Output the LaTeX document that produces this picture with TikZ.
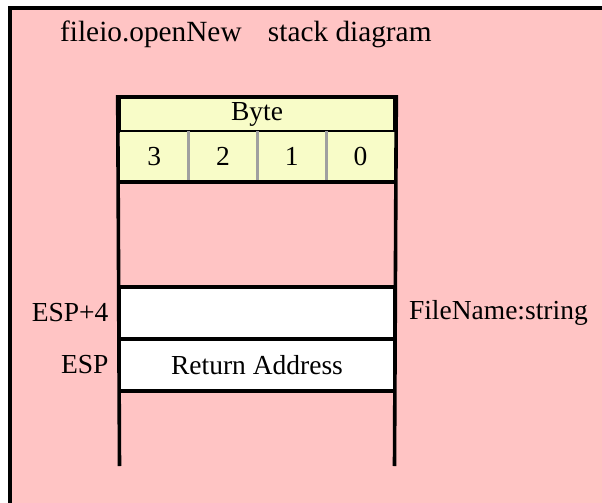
\documentclass[tikz,border=0pt]{standalone}
\usepackage{fontspec}
\setmainfont{Liberation Serif}
\definecolor{bgpink}{RGB}{255,196,196}
\definecolor{cellyellow}{RGB}{248,252,200}
\definecolor{divgrey}{RGB}{160,160,160}
\tikzset{
  frame/.style={line width=3.6pt},
  divider/.style={line width=2.6pt, draw=divgrey},
  rowbox/.style={draw, line width=3.6pt, inner sep=0pt, minimum width=275pt},
  digitbox/.style={inner sep=0pt, minimum width=68.75pt, minimum height=50pt, fill=cellyellow},
  bodytext/.style={font=\fontsize{27.5}{32}\selectfont},
}
\begin{document}
\begin{tikzpicture}[x=1pt, y=-1pt]
  \useasboundingbox (0,0) rectangle (602,503);
  % page and panel
  \fill[white] (0,0) rectangle (602,503);
  \fill[bgpink] (10,8) rectangle (602,503);
  \draw[line width=4pt] (10,503) -- (10,8) -- (602,8);

  % title
  \node[anchor=base west, inner sep=0pt, font=\fontsize{29.3}{34}\selectfont] (title) at (60,42)
    {fileio.openNew\hspace{0.9em}stack diagram};

  % byte header
  \node[rowbox, fill=cellyellow, minimum height=34.5pt, bodytext] (byte) at (257,114.25) {Byte};

  % byte numbers
  \node[digitbox, bodytext] (d3) at (154.125,156.5) {3};
  \node[digitbox, bodytext] (d2) at (222.875,156.5) {2};
  \node[digitbox, bodytext] (d1) at (291.625,156.5) {1};
  \node[digitbox, bodytext] (d0) at (360.375,156.5) {0};
  \draw[divider] (d3.north east) -- (d3.south east);
  \draw[divider] (d2.north east) -- (d2.south east);
  \draw[divider] (d1.north east) -- (d1.south east);
  \draw[frame] (d3.south west) -- (d0.south east);

  % stack slots
  \node[rowbox, fill=white, minimum height=52pt, bodytext] (esp4) at (257,313) {};
  \node[rowbox, fill=white, minimum height=52pt, bodytext] (esp) at (257,365) {Return Address};

  % stack side walls
  \coordinate (bl) at (119.5,466);
  \coordinate (br) at (394.5,466);
  \draw[frame] (byte.north west) -- (bl);
  \draw[frame] (byte.north east) -- (br);

  % labels
  \node[anchor=east, inner sep=0pt, bodytext] (l4) at ([xshift=-9pt]esp4.west) {ESP+4};
  \node[anchor=east, inner sep=0pt, bodytext] (l0) at ([xshift=-9pt]esp.west) {ESP};
  \node[anchor=west, inner sep=0pt, bodytext] (fn) at ([xshift=12.5pt]esp4.east) {FileName:string};
\end{tikzpicture}
\end{document}
